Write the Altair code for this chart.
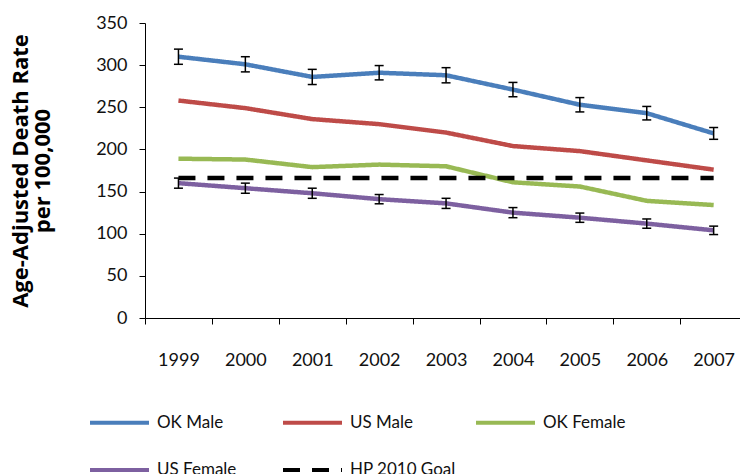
import altair as alt
import pandas as pd

# Age-adjusted death rates per 100,000, 1999-2007
years = [1999, 2000, 2001, 2002, 2003, 2004, 2005, 2006, 2007]
ok_male = [310, 301, 286, 291, 288, 271, 253, 243, 219]
ok_male_err = [9, 9, 9, 8.5, 9, 8.5, 8.5, 8, 7]
us_male = [258, 249, 236, 230, 220, 204, 198, 187, 176]
ok_female = [189, 188, 179, 182, 180, 161, 156, 139, 134]
us_female = [160, 154, 148, 141, 136, 125, 119, 112, 104]
us_female_err = [6, 6, 6, 5.5, 6, 6, 5.5, 5.5, 5]
hp_goal = [166] * len(years)

series_names = ["OK Male", "US Male", "OK Female", "US Female", "HP 2010 Goal"]
series_values = [ok_male, us_male, ok_female, us_female, hp_goal]
series_colors = ["#4A7EBB", "#BE4B48", "#98B954", "#7D60A0", "#000000"]
series_dash = [[1, 0], [1, 0], [1, 0], [1, 0], [17, 12]]

FONT = "Lato"
BAND = 66.9          # pixel width of one year on the category axis
PLOT_W = 595
PLOT_H = 295

rows = []
for name, vals in zip(series_names, series_values):
    for yr, v in zip(years, vals):
        rows.append({"year": yr, "rate": v, "series": name})
lines_df = pd.DataFrame(rows)

err_rows = []
for name, vals, errs in [("OK Male", ok_male, ok_male_err),
                         ("US Female", us_female, us_female_err)]:
    for yr, v, e in zip(years, vals, errs):
        err_rows.append({"year": yr, "lo": v - e, "hi": v + e, "series": name})
err_df = pd.DataFrame(err_rows)

x_scale = alt.Scale(domain=[1998.5, 1998.5 + PLOT_W / BAND], nice=False, zero=False)
y_scale = alt.Scale(domain=[0, 350], nice=False)

x_axis = alt.Axis(
    values=years, format="d", title=None, grid=False,
    tickOffset=-BAND / 2, labelOffset=BAND / 2,
    tickSize=6, tickColor="#000", domainColor="#000",
    labelFont=FONT, labelFontSize=18, labelColor="#111", labelPadding=27,
)
y_axis = alt.Axis(
    values=list(range(0, 351, 50)), grid=False,
    title=["Age-Adjusted Death Rate", "per 100,000"],
    titleFont="Open Sans", titleFontSize=22, titleFontWeight="bold", titleColor="#000",
    titleAngle=270, titleAlign="center", titleBaseline="middle",
    titleX=-125, titleY=PLOT_H / 2, titleLineHeight=22,
    tickSize=6, tickColor="#000", domainColor="#000",
    labelFont=FONT, labelFontSize=18, labelColor="#111", labelPadding=12,
)

legend = alt.Legend(
    title=None, orient="none", legendX=-57, legendY=368,
    direction="horizontal", columns=3, gridAlign="all",
    symbolType="stroke", symbolSize=3481, symbolStrokeWidth=4,
    labelFont=FONT, labelFontSize=17, labelColor="#111", labelOffset=6,
    columnPadding=12, rowPadding=7.5, padding=0,
)

base = alt.Chart(lines_df).encode(
    x=alt.X("year:Q", scale=x_scale, axis=x_axis),
    y=alt.Y("rate:Q", scale=y_scale, axis=y_axis),
)

lines = base.mark_line(strokeWidth=4.5, strokeCap="butt", strokeJoin="round").encode(
    color=alt.Color("series:N",
                    scale=alt.Scale(domain=series_names, range=series_colors),
                    sort=series_names, legend=legend),
    strokeDash=alt.StrokeDash("series:N",
                              scale=alt.Scale(domain=series_names, range=series_dash),
                              sort=series_names, legend=legend),
    detail="series:N",
)

err_base = alt.Chart(err_df).encode(x=alt.X("year:Q", scale=x_scale))
err_rule = err_base.mark_rule(color="#000", strokeWidth=1.5).encode(
    y=alt.Y("lo:Q", scale=y_scale), y2="hi:Q"
)
cap_lo = err_base.mark_rule(color="#000", strokeWidth=1.5, xOffset=-4.5, x2Offset=4.5).encode(
    x2="year:Q", y=alt.Y("lo:Q", scale=y_scale)
)
cap_hi = err_base.mark_rule(color="#000", strokeWidth=1.5, xOffset=-4.5, x2Offset=4.5).encode(
    x2="year:Q", y=alt.Y("hi:Q", scale=y_scale)
)

chart = alt.layer(lines, err_rule, cap_lo, cap_hi).properties(
    width=PLOT_W, height=PLOT_H,
    autosize=alt.AutoSizeParams(type="none"),
    padding={"left": 145, "top": 23, "right": 0, "bottom": 156},
    background="white",
).configure_view(stroke=None)

chart.save("out.html", embed_options={"renderer": "svg", "actions": False})
